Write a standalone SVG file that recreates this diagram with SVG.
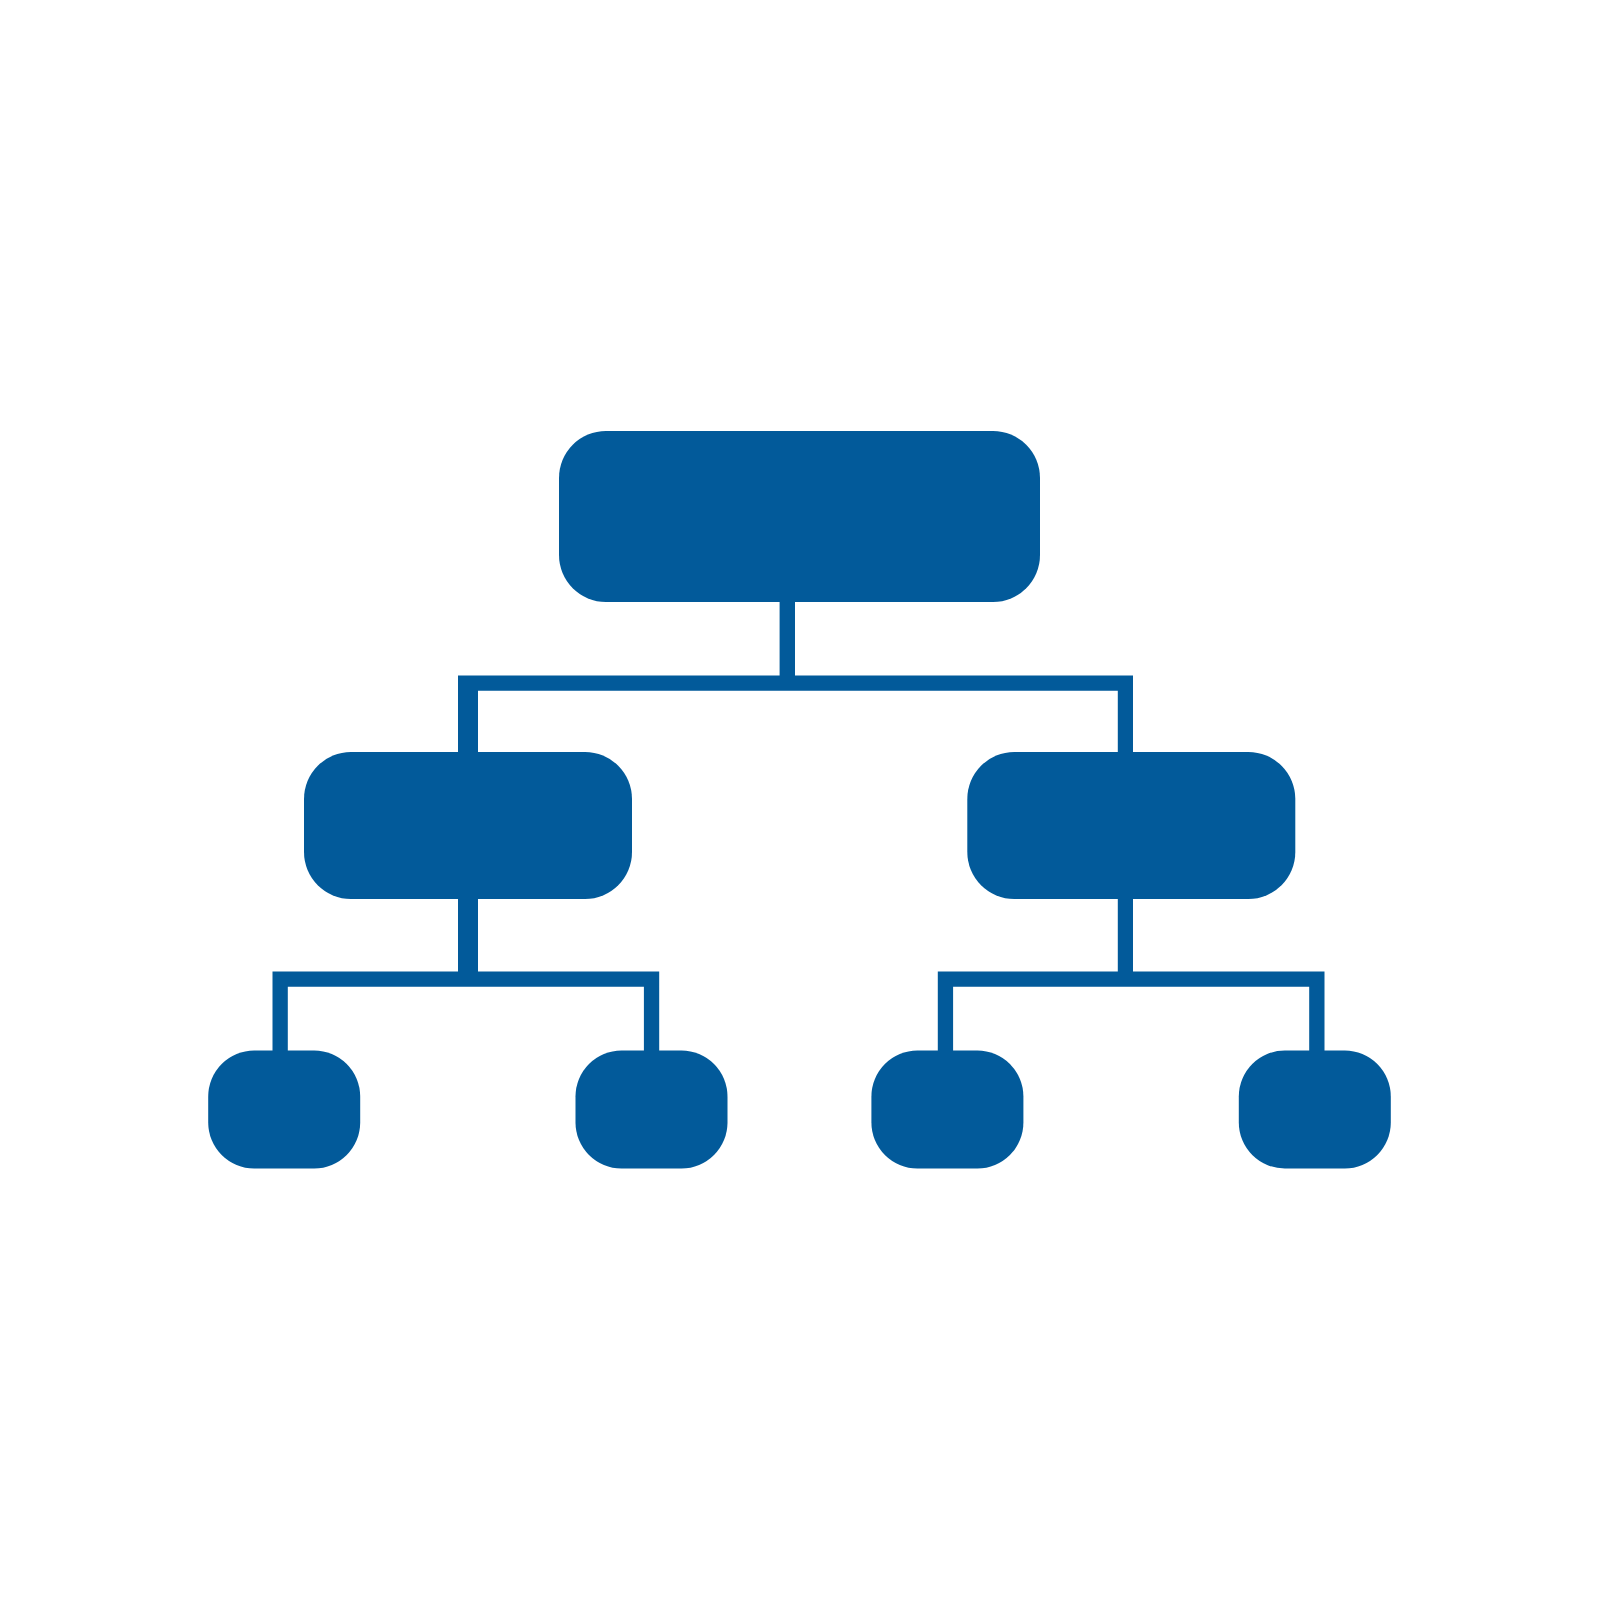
<svg xmlns="http://www.w3.org/2000/svg" width="1600" height="1600" viewBox="0 0 1600 1600">
<style>
.n{fill:#025a9a}
.c{fill:#025a9a}
</style>
<rect width="1600" height="1600" fill="#ffffff"/>
<g id="connectors">
<path class="c" d="M779.6 600h15.4v80h-15.4z M458 675.5h675v15.3h-675z M458 675.5h20v80h-20z M1117.8 675.5h15.2v80h-15.2z M458 895h20v90h-20z M272.5 971.5h386.7v15.3h-386.7z M272.5 971.5h15.3v82h-15.3z M643.9 971.5h15.3v82h-15.3z M1117.8 895h15.2v90h-15.2z M937.8 971.5h386.7v15.3h-386.7z M937.8 971.5h15.3v82h-15.3z M1309.2 971.5h15.3v82h-15.3z"/>
</g>
<g id="root"><rect class="n" x="559" y="431" width="481" height="171" rx="47"/></g>
<g id="mid-left"><rect class="n" x="304" y="752" width="328" height="147" rx="47"/></g>
<g id="mid-right"><rect class="n" x="967.3" y="752" width="328" height="147" rx="47"/></g>
<g id="leaf-1"><rect class="n" x="208.2" y="1050.5" width="152" height="118" rx="46"/></g>
<g id="leaf-2"><rect class="n" x="575.5" y="1050.5" width="152" height="118" rx="46"/></g>
<g id="leaf-3"><rect class="n" x="871.4" y="1050.5" width="152" height="118" rx="46"/></g>
<g id="leaf-4"><rect class="n" x="1238.8" y="1050.5" width="152" height="118" rx="46"/></g>
</svg>
